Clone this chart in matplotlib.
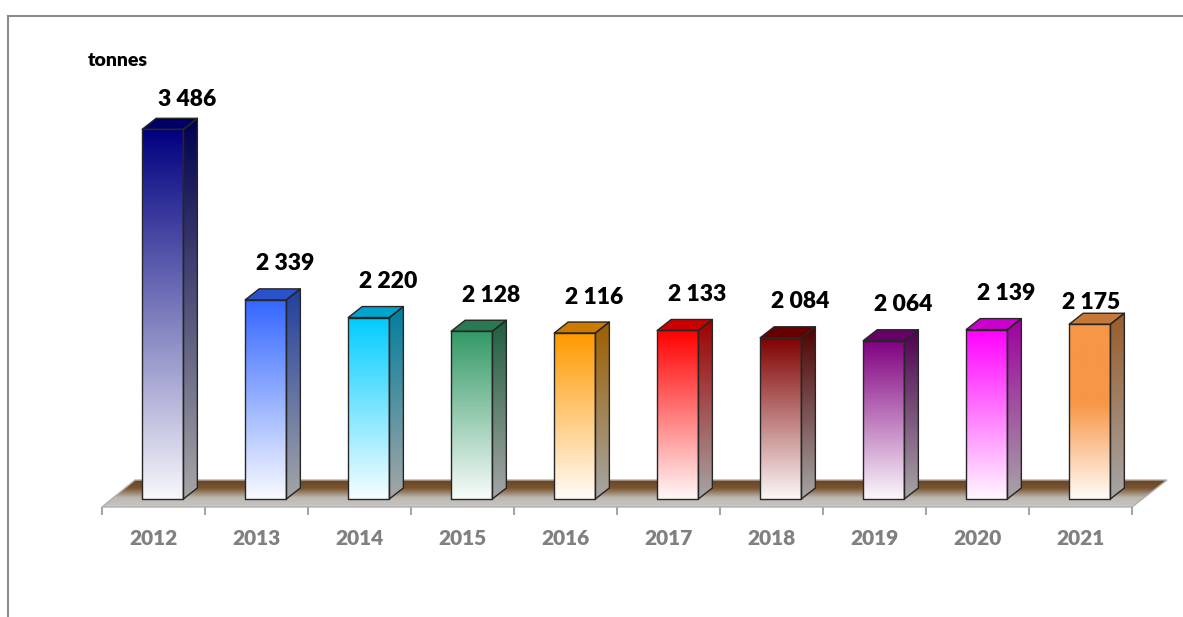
import matplotlib

matplotlib.use("Agg")

import matplotlib.pyplot as plt
import numpy as np
from matplotlib.colors import to_rgb
from matplotlib.patches import Polygon

years = ["2012", "2013", "2014", "2015", "2016", "2017", "2018", "2019", "2020", "2021"]
tonnes = [3486, 2339, 2220, 2128, 2116, 2133, 2084, 2064, 2139, 2175]
bar_colors = ["#000080", "#3366FF", "#00CCFF", "#339966", "#FF9900",
              "#FF0000", "#800000", "#800080", "#FF00FF", "#F79646"]
unit_label = "tonnes"

# label nudges (pixels) where the original labels were placed by hand
label_nudge = {"2012": (5, -6), "2021": (-18, -14)}
# fraction of the front face that keeps the full colour before fading out
hold = {"2021": 0.45}

W, H = 1183, 617
BASE = 1000          # value where bars meet the floor
PPU = 0.1487         # pixels per tonne
DEPTH = (14, 11)     # 3d depth of a bar, pixels
FLOOR_DEPTH = (33, 27)
EDGE = "#262626"
WEIGHT = "heavy"

plt.rcParams["font.family"] = ["Lato", "DejaVu Sans"]

fig = plt.figure(figsize=(W / 100, H / 100), dpi=100)
canvas = fig.add_axes([0, 0, 1, 1])
canvas.set_xlim(0, W)
canvas.set_ylim(0, H)
canvas.axis("off")

ymin, ymax = 946, 3600
ax = fig.add_axes([102 / W, (H - 507) / H, 1030 / W, (ymax - ymin) * PPU / H])
ax.set_xlim(0, len(years))
ax.set_ylim(ymin, ymax)
ax.patch.set_alpha(0)
for s in ax.spines.values():
    s.set_visible(False)
ax.yaxis.set_visible(False)
ax.set_xticks(np.arange(len(years) + 1))
ax.set_xticklabels([])
ax.set_xticks(np.arange(len(years)) + 0.5, minor=True)
ax.set_xticklabels(years, minor=True)
ax.tick_params(axis="x", which="major", length=6, width=1.5, color="#A6A6A6")
ax.tick_params(axis="x", which="minor", length=0, pad=16, labelsize=15,
               labelcolor="#808080")
for t in ax.get_xticklabels(minor=True):
    t.set_fontweight(WEIGHT)

to_px = ax.transData.transform


def mix(c, other, t):
    c, other = np.array(to_rgb(c)), np.array(to_rgb(other))
    return tuple(c * (1 - t) + other * t)


def grad_fill(pts, stops, zorder):
    """Fill polygon pts with a vertical gradient; stops = [(pos, colour)], pos 0 = bottom."""
    poly = Polygon(pts, closed=True, facecolor="none", edgecolor="none",
                   transform=canvas.transData)
    canvas.add_patch(poly)
    pts = np.asarray(pts)
    pos = np.linspace(0, 1, 256)
    sp = [p for p, _ in stops]
    cols = np.array([to_rgb(c) for _, c in stops])
    arr = np.stack([np.interp(pos, sp, cols[:, k]) for k in range(3)], axis=-1)
    arr = np.repeat(arr[:, None, :], 2, axis=1)
    im = canvas.imshow(arr, extent=[pts[:, 0].min(), pts[:, 0].max(),
                                    pts[:, 1].min(), pts[:, 1].max()],
                       origin="lower", aspect="auto", interpolation="bilinear",
                       zorder=zorder)
    im.set_clip_path(poly)


# floor
fl = to_px([(0, ymin), (len(years), ymin)])
fdx, fdy = FLOOR_DEPTH
floor = [fl[0], fl[1], fl[1] + [fdx + 2, fdy], fl[0] + [fdx, fdy]]
grad_fill(floor, [(0, "#C8C8C8"), (0.35, "#BDB7B0"), (0.7, "#7A5532"),
                  (1, "#6B4522")], 1)
canvas.add_patch(Polygon(floor, closed=True, fill=False, edgecolor="#B0B0B0",
                         lw=1, zorder=1.5))

# bars
dx, dy = DEPTH
for i, (yr, v, c) in enumerate(zip(years, tonnes, bar_colors)):
    (x0, y0), (x1, y1) = to_px([(i + 0.39, BASE), (i + 0.79, v)])
    front = [(x0, y0), (x1, y0), (x1, y1), (x0, y1)]
    side = [(x1, y0), (x1 + dx, y0 + dy), (x1 + dx, y1 + dy), (x1, y1)]
    top = [(x0, y1), (x1, y1), (x1 + dx, y1 + dy), (x0 + dx, y1 + dy)]

    low = mix(c, "white", 0.97)
    h = hold.get(yr)
    fstops = [(0, low), (1 - h, c), (1, c)] if h else [(0, low), (1, c)]
    grad_fill(front, fstops, 2)
    grad_fill(side, [(0, "#A6A6A6"), (1, mix(c, "black", 0.38))], 2)
    canvas.add_patch(Polygon(top, closed=True, facecolor=mix(c, "black", 0.2),
                             edgecolor="none", zorder=2))
    for p in (front, side, top):
        canvas.add_patch(Polygon(p, closed=True, fill=False, edgecolor=EDGE,
                                 lw=1, joinstyle="round", zorder=3))

    nx, ny = label_nudge.get(yr, (0, 0))
    canvas.text((x0 + x1) / 2 + 19 + nx, y1 + 36 + ny,
                f"{v:,}".replace(",", " "), ha="center", va="center",
                fontsize=16.5, fontweight=WEIGHT, color="black", zorder=4)

canvas.text(88, H - 61, unit_label, ha="left", va="center", fontsize=14,
            fontweight=WEIGHT, color="black")

# chart border (cut off on the right and bottom)
canvas.plot([8, W], [H - 16, H - 16], color="#8C8C8C", lw=1.5)
canvas.plot([8, 8], [H - 16, 0], color="#8C8C8C", lw=1.5)

fig.savefig("out.png", dpi=100)
